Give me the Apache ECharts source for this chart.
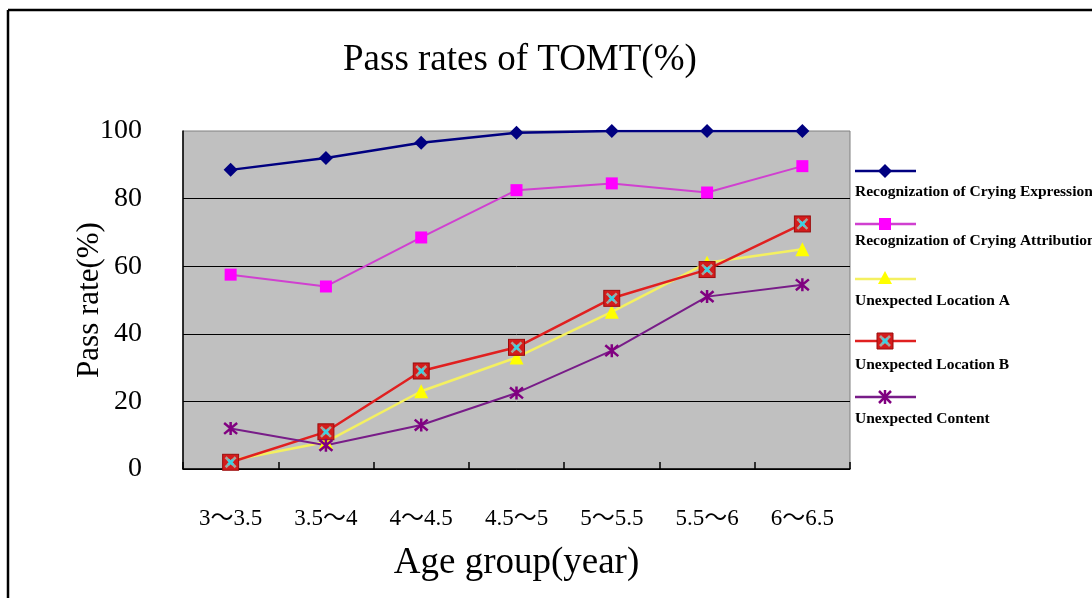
<!DOCTYPE html>
<html>
<head>
<meta charset="utf-8">
<title>Pass rates of TOMT</title>
<script src="https://cdn.jsdelivr.net/npm/echarts@6/dist/echarts.min.js"></script>
<style>
  html, body { margin: 0; padding: 0; background: #fff; }
  #chart { width: 1092px; height: 598px; }
</style>
</head>
<body>
<div id="chart"></div>
<script>
// data
const ageGroups = ['3～3.5', '3.5～4', '4～4.5', '4.5～5', '5～5.5', '5.5～6', '6～6.5']
const yTicks = [0, 20, 40, 60, 80, 100]
const seriesNames = [
  'Recognization of Crying Expression',
  'Recognization of Crying Attribution',
  'Unexpected Location A',
  'Unexpected Location B',
  'Unexpected Content'
]
const cryingExpression = [88.5, 92, 96.5, 99.5, 100, 100, 100]
const cryingAttribution = [57.5, 54, 68.5, 82.5, 84.5, 81.8, 89.6]
const locationA = [2.5, 8, 23, 33, 46.5, 61, 65]
const locationB = [2, 11, 29, 36, 50.5, 59, 72.5]
const unexpectedContent = [12, 7, 13, 22.5, 35, 51, 54.5]

const serif = "'Liberation Serif', 'Noto Sans CJK SC', serif"

// red square with a grey / cyan cross, like the Excel marker
const crossSvg =
  "<svg xmlns='http://www.w3.org/2000/svg' width='18' height='18'>" +
  "<rect x='1' y='1' width='16' height='16' fill='#d41c1c' stroke='#9a0c0c' stroke-width='1'/>" +
  "<path d='M4 4L14 14M14 4L4 14' stroke='#a8a49c' stroke-width='2.6'/>" +
  "<path d='M6.5 6.5L11.5 11.5M11.5 6.5L6.5 11.5' stroke='#40d0e0' stroke-width='2.6'/>" +
  "</svg>"
const crossSymbol = 'image://data:image/svg+xml;charset=utf-8,' + encodeURIComponent(crossSvg)
const starPath = 'M0,0L10,10M10,0L0,10M5,-1L5,11'

const chart = echarts.init(document.getElementById('chart'), null, { renderer: 'canvas' })

// legend drawn by hand: a line sample and the name written under it
const legendRows = [
  { lineY: 171, textY: 192 },
  { lineY: 224, textY: 241 },
  { lineY: 279, textY: 301 },
  { lineY: 341, textY: 365 },
  { lineY: 397, textY: 419 }
]
const legendColors = ['#000080', '#d040d0', '#f4f060', '#e02020', '#781c88']

function seg(x1, y1, x2, y2, color, w) {
  return { type: 'line', shape: { x1: x1, y1: y1, x2: x2, y2: y2 }, style: { stroke: color, lineWidth: w } }
}

function legendMarker(i, cx, cy) {
  if (i === 0) {
    return { type: 'polygon', shape: { points: [[cx, cy - 7], [cx + 7, cy], [cx, cy + 7], [cx - 7, cy]] }, style: { fill: '#000080' } }
  }
  if (i === 1) {
    return { type: 'rect', shape: { x: cx - 6, y: cy - 6, width: 12, height: 12 }, style: { fill: '#ff00ff' } }
  }
  if (i === 2) {
    return { type: 'polygon', shape: { points: [[cx, cy - 8], [cx + 7, cy + 5], [cx - 7, cy + 5]] }, style: { fill: '#ffff00' } }
  }
  if (i === 3) {
    return {
      type: 'group',
      children: [
        { type: 'rect', shape: { x: cx - 8, y: cy - 8, width: 16, height: 16 }, style: { fill: '#d41c1c', stroke: '#9a0c0c', lineWidth: 1 } },
        seg(cx - 5, cy - 5, cx + 5, cy + 5, '#a8a49c', 2.6),
        seg(cx + 5, cy - 5, cx - 5, cy + 5, '#a8a49c', 2.6),
        seg(cx - 2.5, cy - 2.5, cx + 2.5, cy + 2.5, '#40d0e0', 2.6),
        seg(cx + 2.5, cy - 2.5, cx - 2.5, cy + 2.5, '#40d0e0', 2.6)
      ]
    }
  }
  return {
    type: 'group',
    children: [
      seg(cx - 6, cy - 6, cx + 6, cy + 6, '#800080', 2.5),
      seg(cx + 6, cy - 6, cx - 6, cy + 6, '#800080', 2.5),
      seg(cx, cy - 7, cx, cy + 7, '#800080', 2.5)
    ]
  }
}

const legendGraphics = []
seriesNames.forEach((name, i) => {
  const row = legendRows[i]
  legendGraphics.push(seg(855, row.lineY, 916, row.lineY, legendColors[i], 2.5))
  legendGraphics.push(legendMarker(i, 885, row.lineY))
  legendGraphics.push({
    type: 'text',
    x: 855,
    y: row.textY,
    style: {
      text: name,
      fill: '#000',
      font: "bold 15.5px 'Liberation Serif', serif",
      verticalAlign: 'middle'
    }
  })
})

const option = {
  animation: false,
  backgroundColor: '#fff',
  title: {
    text: 'Pass rates of TOMT(%)',
    left: 338,
    top: 37,
    textStyle: {
      fontFamily: serif,
      fontWeight: 'normal',
      fontSize: 37,
      color: '#000'
    }
  },
  grid: {
    left: 183,
    right: 242,
    top: 131,
    bottom: 129,
    outerBoundsMode: 'none',
    show: true,
    backgroundColor: '#c0c0c0',
    borderColor: '#808080',
    borderWidth: 1
  },
  xAxis: {
    type: 'category',
    data: ageGroups,
    boundaryGap: true,
    name: 'Age group(year)',
    nameLocation: 'middle',
    nameGap: 76,
    nameMoveOverlap: false,
    nameTextStyle: { fontFamily: serif, fontSize: 37, color: '#000' },
    axisLine: { lineStyle: { color: '#000', width: 1.5 } },
    axisTick: { show: true, inside: true, length: 7, lineStyle: { color: '#000', width: 1.5 } },
    axisLabel: { margin: 38, fontFamily: serif, fontSize: 23, color: '#000' },
    splitLine: { show: false }
  },
  yAxis: {
    type: 'value',
    min: yTicks[0],
    max: yTicks[yTicks.length - 1],
    interval: yTicks[1] - yTicks[0],
    name: 'Pass rate(%)',
    nameLocation: 'middle',
    nameGap: 78,
    nameMoveOverlap: false,
    nameTextStyle: { fontFamily: serif, fontSize: 31, color: '#000' },
    axisLine: { show: true, lineStyle: { color: '#000', width: 1.5 } },
    axisTick: { show: false },
    axisLabel: { margin: 41, fontFamily: serif, fontSize: 28, color: '#000' },
    splitLine: { show: true, showMaxLine: false, lineStyle: { color: '#000', width: 1 } }
  },
  series: [
    {
      name: seriesNames[0],
      type: 'line',
      data: cryingExpression,
      symbol: 'diamond',
      symbolSize: 14,
      itemStyle: { color: '#000080' },
      lineStyle: { color: '#000080', width: 2.5 }
    },
    {
      name: seriesNames[1],
      type: 'line',
      data: cryingAttribution,
      symbol: 'rect',
      symbolSize: 12,
      itemStyle: { color: '#ff00ff' },
      lineStyle: { color: '#d040d0', width: 2 }
    },
    {
      name: seriesNames[2],
      type: 'line',
      data: locationA,
      symbol: 'triangle',
      symbolSize: 14,
      itemStyle: { color: '#ffff00' },
      lineStyle: { color: '#f4f060', width: 2.5 }
    },
    {
      name: seriesNames[3],
      type: 'line',
      data: locationB,
      symbol: crossSymbol,
      symbolSize: 18,
      itemStyle: { color: '#d41c1c' },
      lineStyle: { color: '#e02020', width: 2.5 }
    },
    {
      name: seriesNames[4],
      type: 'line',
      data: unexpectedContent,
      symbol: 'path://' + starPath,
      symbolSize: 13,
      itemStyle: { color: '#800080', borderColor: '#800080', borderWidth: 2.5 },
      lineStyle: { color: '#781c88', width: 2 }
    }
  ],
  graphic: [
    // frame of the original picture (top and left edges only)
    seg(8, 10, 1092, 10, '#000', 2.5),
    seg(8, 10, 8, 598, '#000', 2.5)
  ].concat(legendGraphics)
}

chart.setOption(option)
</script>
</body>
</html>
